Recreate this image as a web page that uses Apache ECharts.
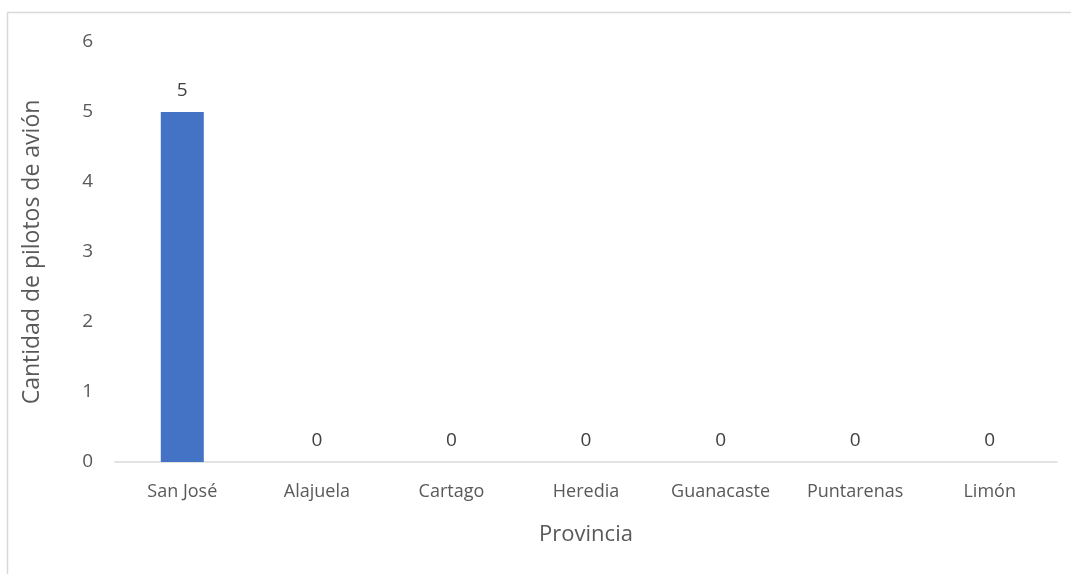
<!DOCTYPE html>
<html>
<head>
<meta charset="utf-8">
<script src="https://cdn.jsdelivr.net/npm/echarts@6/dist/echarts.min.js"></script>
<style>
  html, body { margin: 0; padding: 0; background: #fff; }
  #chart { width: 1071px; height: 574px; }
</style>
</head>
<body>
<div id="chart"></div>
<script>
var provincias = ['San José', 'Alajuela', 'Cartago', 'Heredia', 'Guanacaste', 'Puntarenas', 'Limón']
var pilotos = [5, 0, 0, 0, 0, 0, 0]
var yTicks = [0, 1, 2, 3, 4, 5, 6]

var textColor = '#595959'
var font = 'Open Sans, Noto Sans, sans-serif'

var myChart = echarts.init(document.getElementById('chart'))
myChart.setOption({
  animation: false,
  textStyle: { fontFamily: font },
  graphic: [
    {
      type: 'rect',
      shape: { x: 7.5, y: 12.5, width: 1100, height: 600 },
      style: { fill: 'none', stroke: '#d9d9d9', lineWidth: 1.5 },
      silent: true
    }
  ],
  grid: { left: 115, right: 14, top: 42, bottom: 112 },
  xAxis: {
    type: 'category',
    data: provincias,
    name: 'Provincia',
    nameLocation: 'middle',
    nameGap: 62,
    nameTextStyle: { color: textColor, fontSize: 22, fontFamily: font },
    axisLine: { lineStyle: { color: '#d9d9d9', width: 1.5 } },
    axisTick: { show: false },
    axisLabel: { color: textColor, fontSize: 18, margin: 21, interval: 0, fontFamily: font }
  },
  yAxis: {
    type: 'value',
    min: yTicks[0],
    max: yTicks[yTicks.length - 1],
    interval: 1,
    name: 'Cantidad de pilotos de avión',
    nameLocation: 'middle',
    nameGap: 71,
    nameTextStyle: { color: textColor, fontSize: 23, fontFamily: font },
    axisLine: { show: false },
    axisTick: { show: false },
    splitLine: { show: false },
    axisLabel: { color: textColor, fontSize: 19, margin: 22, fontFamily: font }
  },
  series: [
    {
      type: 'bar',
      data: pilotos,
      barWidth: 43,
      itemStyle: { color: '#4472c4' },
      label: {
        show: true,
        position: 'top',
        distance: 12,
        color: '#404040',
        fontSize: 19,
        fontFamily: font
      }
    }
  ]
})
</script>
</body>
</html>
